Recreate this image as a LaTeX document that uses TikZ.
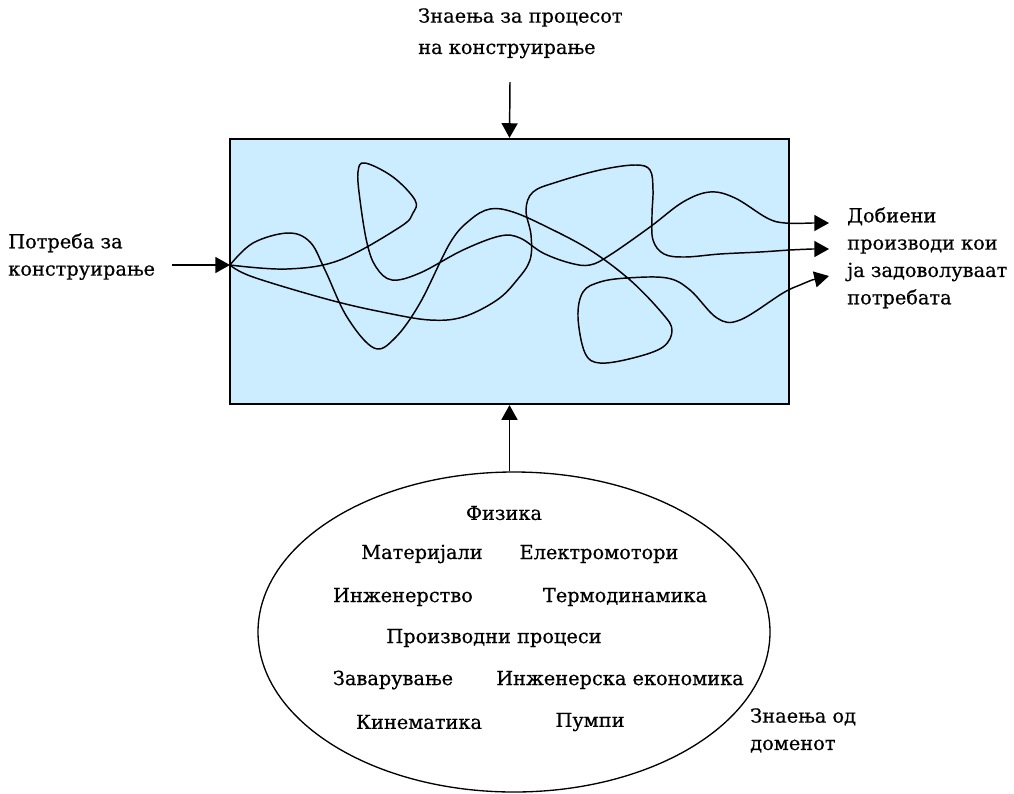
\documentclass[tikz,border=0pt]{standalone}
\usepackage{fontspec}
\setmainfont[FakeBold=0.6]{DejaVu Serif}
\usepackage{tikz}
\usetikzlibrary{shapes.geometric,arrows.meta}
\definecolor{boxblue}{HTML}{CCECFF}

\begin{document}
\begin{tikzpicture}[x=0.75pt,y=-0.75pt,
	lbl/.style={font=\fontsize{14.5}{20.5}\selectfont, inner sep=0pt},
	txt/.style={align=left, anchor=north west, lbl},
	arr/.style={-{Triangle[length=11pt,width=12pt]}, line width=1.1pt},
	wig/.style={line width=1.4pt}]
	\useasboundingbox (0,0) rectangle (1014,793);
	\node (box) at (509.5,271.5) [draw, line width=1.4pt, fill=boxblue, minimum width=419pt, minimum height=199pt, inner sep=0pt] {};
	\node (dom) at (514,632) [ellipse, draw, line width=1pt, minimum width=384pt, minimum height=240pt, inner sep=0pt] {};
	\node (know) at (418,8) [txt, font=\fontsize{14.5}{23.5}\selectfont] {Знаења за процесот\\на конструирање};
	\node (need) at (8,233) [txt] {Потреба за\\конструирање};
	\node (res) at (847,207) [txt] {Добиени\\производи кои\\ја задоволуваат\\потребата};
	\node (dlbl) at (750,708) [txt] {Знаења од\\доменот};
		\node (f1) at (504,513) [lbl] {Физика};
		\node (f2) at (422,554) [lbl] {Материјали};
		\node (f3) at (599,554) [lbl] {Електромотори};
		\node (f4) at (403,597) [lbl] {Инженерство};
		\node (f5) at (625,597) [lbl] {Термодинамика};
		\node (f6) at (494,638) [lbl] {Производни процеси};
		\node (f7) at (393,680) [lbl] {Заварување};
		\node (f8) at (620,680) [lbl] {Инженерска економика};
		\node (f9) at (419,722) [lbl] {Кинематика};
		\node (f10) at (590,722) [lbl] {Пумпи};
	\coordinate (in) at (230,265);
	\coordinate (src) at (172,265);
	\coordinate (kin) at (510,82);
	\coordinate (o1) at (829,223);
	\coordinate (o2) at (829,249);
	\coordinate (o3) at (829,276);
	\draw[arr] (src) -- (in);
	\draw[arr] (kin) -- (box.north);
	\draw[arr] (box.south |- dom.north) -- (box.south);
	\draw[wig, arr] plot[smooth, tension=0.6] coordinates {(in) (287,269) (340,260) (400,227) (413,213) (415,200) (393,177) (365,163) (358,172) (360,200) (367,243) (376,267) (392,280) (420,273) (463,250) (500,236) (520,238) (543,253) (570,263) (590,265) (610,255) (650,227) (683,202) (710,192) (735,198) (767,218) (785,223) (812,223)} -- (o1);
	\draw[wig, arr] plot[smooth, tension=0.6] coordinates {(in) (253,277) (330,300) (387,313) (430,320) (463,317) (497,300) (517,280) (530,260) (531,235) (526,210) (533,192) (557,182) (600,170) (635,165) (650,170) (653,190) (652,215) (653,240) (664,254) (685,257) (720,254) (760,252) (790,250) (812,249)} -- (o2);
	\draw[wig, arr] plot[smooth, tension=0.6] coordinates {(in) (253,243) (288,233) (310,242) (325,270) (347,317) (374,348) (395,338) (420,303) (450,243) (470,220) (490,209) (513,212) (547,227) (590,250) (630,280) (662,313) (672,330) (663,347) (633,358) (600,363) (585,353) (578,317) (583,292) (600,282) (627,278) (667,278) (690,290) (717,318) (740,320) (783,293) (800,285) (812,280)} -- (o3);
\end{tikzpicture}
\end{document}
